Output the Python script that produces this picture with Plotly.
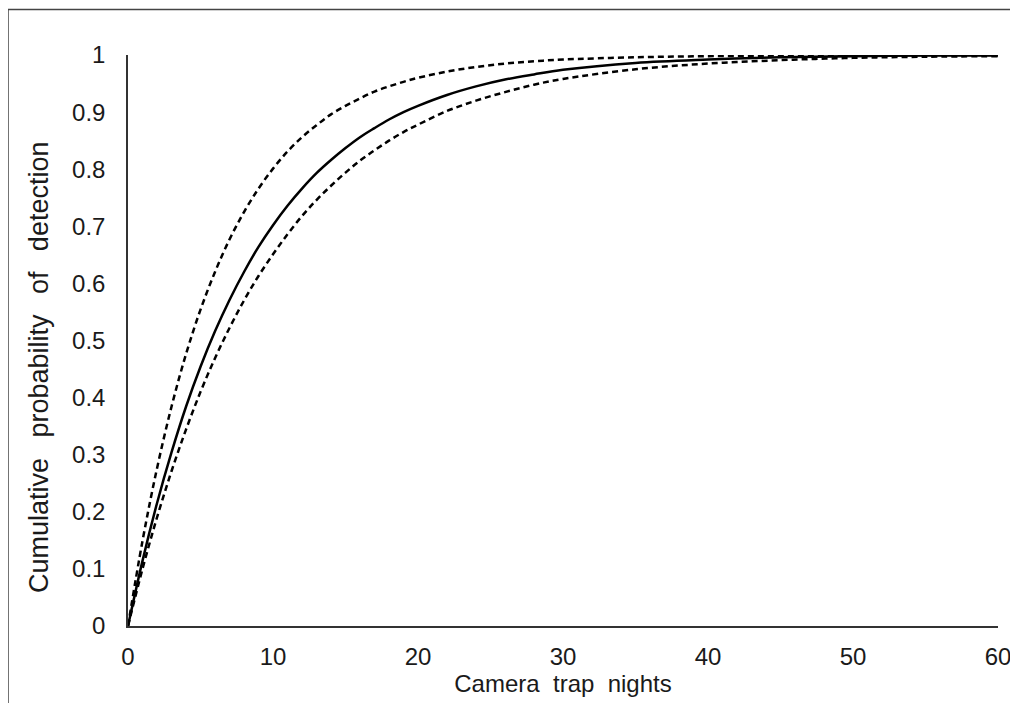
import plotly.graph_objects as go

nights = [0, 1, 2, 3, 4, 5, 6, 7, 8, 9, 10, 11, 12, 13, 14, 15, 16, 17, 18, 19, 20,
          22, 24, 26, 28, 30, 35, 40, 45, 50, 55, 60]
estimate = [0, .114, .215, .304, .384, .454, .516, .571, .620, .664, .702, .736, .766, .793,
            .816, .837, .856, .872, .887, .900, .911, .930, .945, .957, .966, .974, .986,
            .992, .996, .998, .999, .9993]
upper = [0, .149, .276, .384, .476, .554, .620, .677, .725, .766, .801, .831, .856, .877,
         .896, .911, .924, .936, .945, .953, .960, .971, .979, .985, .989, .992, .996,
         .998, .999, .9997, 1.0, 1.0]
lower = [0, .100, .190, .271, .344, .410, .469, .522, .570, .613, .651, .686, .718, .746,
         .771, .794, .815, .833, .850, .865, .878, .902, .920, .935, .948, .958, .975,
         .985, .991, .995, .997, .998]

x_ticks = [0, 10, 20, 30, 40, 50, 60]
y_ticks = [0, 0.1, 0.2, 0.3, 0.4, 0.5, 0.6, 0.7, 0.8, 0.9, 1]
y_labels = ["0", "0.1", "0.2", "0.3", "0.4", "0.5", "0.6", "0.7", "0.8", "0.9", "1"]

fig = go.Figure()
fig.add_trace(go.Scatter(x=nights, y=upper, mode="lines",
                         line=dict(color="black", width=2.5, dash="6px,4px", shape="spline")))
fig.add_trace(go.Scatter(x=nights, y=lower, mode="lines",
                         line=dict(color="black", width=2.5, dash="6px,4px", shape="spline")))
fig.add_trace(go.Scatter(x=nights, y=estimate, mode="lines",
                         line=dict(color="black", width=2.5, shape="spline")))

FAM = "Liberation Sans, Arial, sans-serif"
tick_font = dict(family=FAM, size=24, color="#1a1a1a")
title_font = dict(family=FAM, size=24, color="#1a1a1a")
ytitle_font = dict(family=FAM, size=27, color="#1a1a1a")
nb = "\u00a0"
gap = " " + nb + "\u2009"

# page offset of 8px (body margin) -> figure drawn at (8, 8)
W, H = 1002, 695
L, R, T, B = 120, 12, 47, 77
PW, PH = W - L - R, H - T - B

fig.update_layout(
    width=W, height=H,
    margin=dict(l=L, r=R, t=T, b=B, autoexpand=False),
    paper_bgcolor="white", plot_bgcolor="white",
    showlegend=False,
    font=tick_font,
    xaxis=dict(range=[0, 60], tickvals=x_ticks, ticktext=[str(v) for v in x_ticks],
               showgrid=False, zeroline=False, showline=True, linecolor="#333333",
               linewidth=1.5, ticks="", ticklabelstandoff=8, tickfont=tick_font,
               ticklabeloverflow="allow", automargin=False,
               title=dict(text="Camera" + nb + " trap" + nb + " nights", standoff=1, font=title_font)),
    yaxis=dict(range=[0, 1], tickvals=y_ticks, ticktext=y_labels,
               showgrid=False, zeroline=False, showline=True, linecolor="#333333",
               linewidth=1.5, ticks="", ticklabelstandoff=16, tickfont=tick_font,
               automargin=False),
    annotations=[
        dict(text="Cumulative" + gap + "probability" + gap + "of" + gap + "detection",
             textangle=-90, xref="paper", yref="paper",
             x=(31 - L) / PW, y=(618 - 360) / PH, xanchor="center", yanchor="middle",
             showarrow=False, font=ytitle_font),
    ],
    shapes=[
        dict(type="line", xref="paper", yref="paper", x0=-L / PW, x1=1.05,
             y0=1 + (T - 1.5) / PH, y1=1 + (T - 1.5) / PH,
             line=dict(color="#444444", width=1.5)),
        dict(type="line", xref="paper", yref="paper", x0=-L / PW, x1=-L / PW,
             y0=-0.2, y1=1 + (T - 1.5) / PH,
             line=dict(color="#444444", width=1.5)),
    ],
)

fig.write_html("out.html")
